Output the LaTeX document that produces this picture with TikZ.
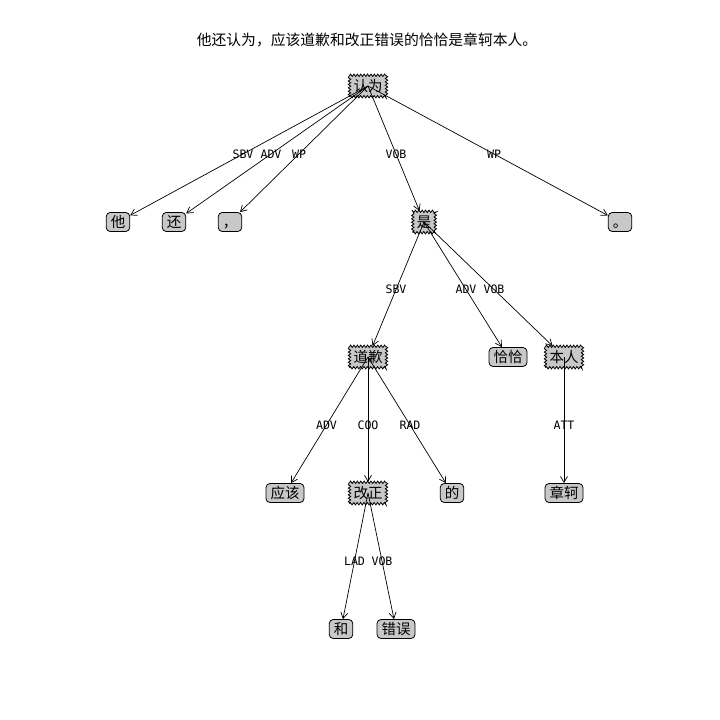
\documentclass[tikz,border=0pt]{standalone}
\usepackage{fontspec}
\newfontfamily\cjk{Noto Sans CJK SC}
\newfontfamily\monof{DejaVu Sans Mono}
\usetikzlibrary{arrows.meta,decorations.pathmorphing,calc}
\definecolor{boxgray}{RGB}{200,200,200}
\begin{document}
\begin{tikzpicture}[x=1pt,y=-1pt,
  word/.style={font=\cjk\fontsize{14.5}{16}\selectfont, fill=boxgray, draw=black, line width=0.8pt,
    text height=12.6pt, text depth=2.4pt},
  leafbox/.style={word, rounded corners=4pt, inner xsep=4.5pt, inner ysep=2pt},
  headbox/.style={word, inner xsep=4pt, inner ysep=3.2pt, decorate,
    decoration={zigzag, segment length=3.4pt, amplitude=1.2pt}},
  dep/.style={-{Straight Barb[length=6pt,width=7pt]}, line width=0.7pt},
  rel/.style={font=\monof\fontsize{11.6}{13}\selectfont, inner sep=0pt}]
\useasboundingbox (0,0) rectangle (720,720);
\node[font=\cjk\fontsize{14.8}{16}\selectfont] (title) at (367,40) {他还认为，应该道歉和改正错误的恰恰是章轲本人。};
% words
\node[headbox] (renwei) at (368,86) {认为};
\node[leafbox] (ta) at (118,222) {他};
\node[leafbox] (hai) at (174,222) {还};
\node[leafbox] (comma) at (230,222) {，};
\node[headbox] (shi) at (424,222) {是};
\node[leafbox] (period) at (620,222) {。};
\node[headbox] (daoqian) at (368,357) {道歉};
\node[leafbox] (qiaqia) at (508,357) {恰恰};
\node[headbox] (benren) at (564,357) {本人};
\node[leafbox] (yinggai) at (285,493) {应该};
\node[headbox] (gaizheng) at (368,493) {改正};
\node[leafbox] (de) at (452,493) {的};
\node[leafbox] (zhangke) at (564,493) {章轲};
\node[leafbox] (he) at (341,629) {和};
\node[leafbox] (cuowu) at (396,629) {错误};
% dependency arcs with relation labels at the centre-to-centre midpoint
\foreach \h/\d/\r in {renwei/ta/SBV, renwei/hai/ADV, renwei/comma/WP, renwei/shi/VOB, renwei/period/WP,
  shi/daoqian/SBV, shi/qiaqia/ADV, shi/benren/VOB,
  daoqian/yinggai/ADV, daoqian/gaizheng/COO, daoqian/de/RAD, benren/zhangke/ATT,
  gaizheng/he/LAD, gaizheng/cuowu/VOB}{
  \draw[dep] (\h.center) -- (\d);
  \node[rel] (\h-\d) at ($(\h.center)!0.5!(\d.center)$) {\r};
}
\end{tikzpicture}
\end{document}
